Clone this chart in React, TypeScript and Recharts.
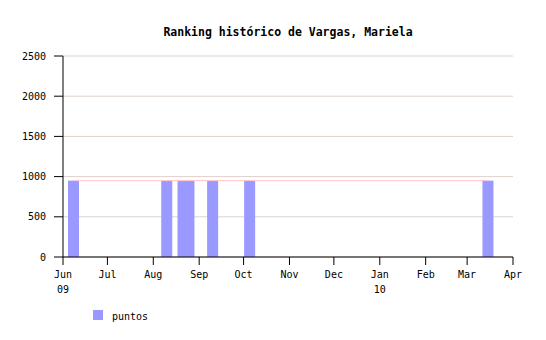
import {
  Bar,
  CartesianGrid,
  ComposedChart,
  Line,
  XAxis,
  YAxis,
} from "recharts";

const FONT = "'DejaVu Sans Mono', monospace";

// fechas de cada registro y sus puntos
const fechas = [
  "2009-06-08",
  "2009-08-10",
  "2009-08-21",
  "2009-08-25",
  "2009-09-10",
  "2009-10-05",
  "2010-03-15",
];
const puntos = [950, 950, 950, 950, 950, 950, 950];

const mesesTicks = [
  "2009-06-01",
  "2009-07-01",
  "2009-08-01",
  "2009-09-01",
  "2009-10-01",
  "2009-11-01",
  "2009-12-01",
  "2010-01-01",
  "2010-02-01",
  "2010-03-01",
  "2010-04-01",
];
const mesesLabels = ["Jun", "Jul", "Aug", "Sep", "Oct", "Nov", "Dec", "Jan", "Feb", "Mar", "Apr"];
const anioLabels = ["09", "", "", "", "", "", "", "10", "", "", ""];

const yTicks = [0, 500, 1000, 1500, 2000, 2500];

const toDay = (s: string) => {
  const [y, m, d] = s.split("-").map(Number);
  return Date.UTC(y, m - 1, d) / 86400000;
};

const data = fechas.map((f, i) => ({ day: toDay(f), puntos: puntos[i] }));
const tickDays = mesesTicks.map(toDay);

const BAR_W = 11;

const MonthTick = (props: any) => {
  const { x, y, payload } = props;
  const i = tickDays.indexOf(payload.value);
  return (
    <g transform={`translate(${x},${y})`}>
      <text x={0} y={11} textAnchor="middle" fontFamily={FONT} fontSize={10} fill="#000">
        {mesesLabels[i]}
      </text>
      {anioLabels[i] && (
        <text x={0} y={26} textAnchor="middle" fontFamily={FONT} fontSize={10} fill="#000">
          {anioLabels[i]}
        </text>
      )}
    </g>
  );
};

// barra de ancho fijo centrada en la fecha
const FixedBar = (props: any) => {
  const { x, y, width, height, fill } = props;
  return <rect x={x + width / 2 - BAR_W / 2} y={y} width={BAR_W} height={height} fill={fill} />;
};

export default function App() {
  return (
    <div style={{ position: "absolute", left: 0, top: 0, width: 546, height: 340, background: "#fff" }}>
      <div
        style={{
          position: "absolute",
          left: 63,
          width: 450,
          top: 27,
          textAlign: "center",
          fontFamily: FONT,
          fontWeight: "bold",
          fontSize: 11.5,
          lineHeight: 1,
        }}
      >
        Ranking histórico de Vargas, Mariela
      </div>
      <ComposedChart width={546} height={340} data={data} margin={{ top: 56, right: 33, left: 0, bottom: 43 }}>
        <CartesianGrid vertical={false} stroke="#ddd2cb" />
        <XAxis
          type="number"
          dataKey="day"
          domain={[tickDays[0], tickDays[tickDays.length - 1]]}
          ticks={tickDays}
          interval={0}
          tick={<MonthTick />}
          tickSize={8}
          height={40}
          stroke="#000"
          allowDataOverflow
        />
        <YAxis
          domain={[0, 2500]}
          ticks={yTicks}
          width={63}
          tickSize={9}
          tickMargin={8}
          stroke="#000"
          tick={{ fontFamily: FONT, fontSize: 10, fill: "#000" }}
        />
        <Line dataKey="puntos" stroke="#ffc4cc" strokeWidth={1} dot={false} isAnimationActive={false} legendType="none" />
        <Bar dataKey="puntos" fill="#9999ff" shape={<FixedBar />} isAnimationActive={false} />
      </ComposedChart>
      <div style={{ position: "absolute", left: 93, top: 310, width: 10, height: 10, background: "#9999ff" }} />
      <div
        style={{
          position: "absolute",
          left: 112,
          top: 311,
          fontFamily: FONT,
          fontSize: 10,
          lineHeight: "11px",
        }}
      >
        puntos
      </div>
    </div>
  );
}
